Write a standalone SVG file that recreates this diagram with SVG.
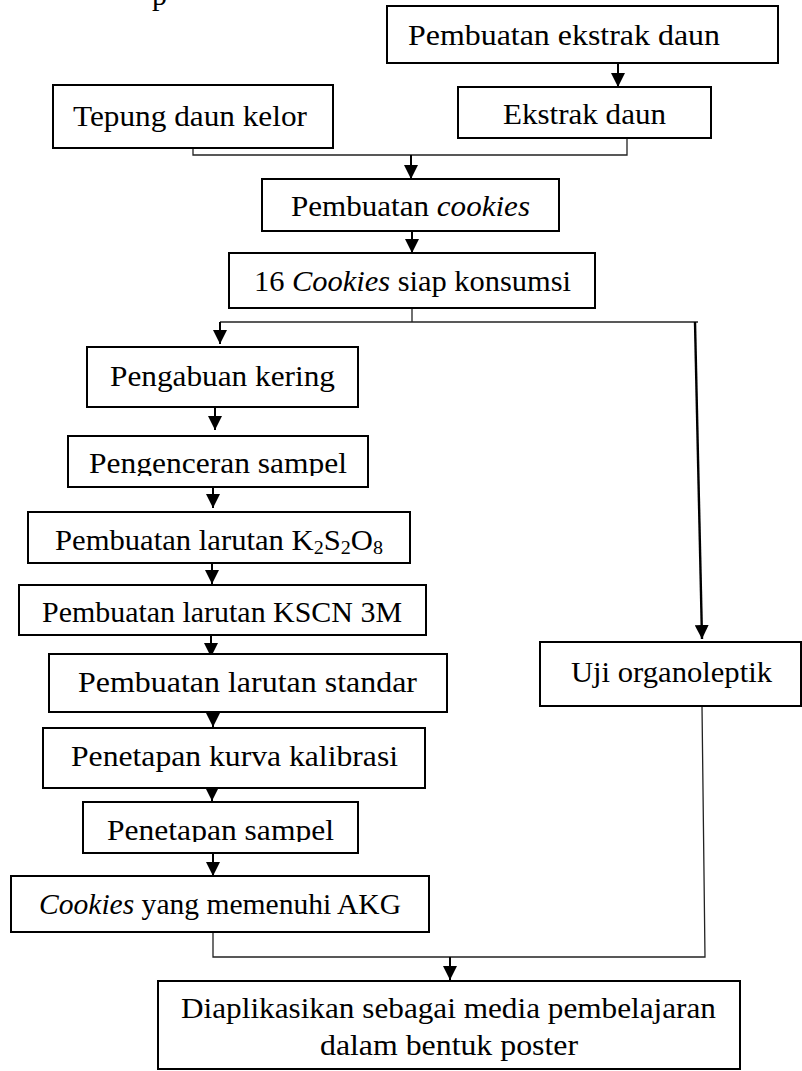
<svg xmlns="http://www.w3.org/2000/svg" width="802" height="1071" viewBox="0 0 802 1071">
<style>
  .box{fill:#fff;stroke:#000;stroke-width:2}
  .t{font-family:"Liberation Serif","Times New Roman",serif;font-size:30px;fill:#000}
  .s{font-size:29px}
  .thin{fill:none;stroke:#222;stroke-width:1.3}
  .arr{fill:none;stroke:#000;stroke-width:2;marker-end:url(#ah)}
</style>
<defs>
  <marker id="ah" markerUnits="userSpaceOnUse" markerWidth="14" markerHeight="14" refX="14" refY="7" orient="auto">
    <path d="M0,0 L14,7 L0,14 Z" fill="#000"/>
  </marker>
  <clipPath id="c1"><rect x="60" y="430" width="320" height="46"/></clipPath>
  <clipPath id="c2"><rect x="80" y="800" width="290" height="42"/></clipPath>
</defs>
<rect width="802" height="1071" fill="#fff"/>
<text class="t" x="152" y="5">p</text>

<g id="connectors">
  <line class="arr" x1="618" y1="63" x2="618" y2="87"/>
  <polyline class="thin" points="193,139 193,155 627,155 627,138"/>
  <line class="arr" x1="411" y1="155" x2="411" y2="179"/>
  <line class="arr" x1="412" y1="231" x2="412" y2="253"/>
  <polyline class="thin" points="412,308 412,322"/>
  <line class="thin" x1="220" y1="322" x2="698" y2="322"/>
  <line class="arr" x1="220" y1="322" x2="220" y2="344"/>
  <line class="arr" x1="695" y1="322" x2="702" y2="639" style="stroke-width:2.4"/>
  <line class="arr" x1="215" y1="407" x2="215" y2="430"/>
  <line class="arr" x1="213" y1="487" x2="213" y2="508"/>
  <line class="arr" x1="212" y1="563" x2="212" y2="584"/>
  <line class="arr" x1="211" y1="635" x2="211" y2="657"/>
  <line class="arr" x1="213" y1="706" x2="213" y2="727"/>
  <line class="arr" x1="212" y1="779" x2="212" y2="801"/>
  <line class="arr" x1="213" y1="853" x2="213" y2="876"/>
  <polyline class="thin" points="213,932 213,957 705,957 702,706"/>
  <line class="arr" x1="450" y1="957" x2="450" y2="980"/>
</g>

<g id="n-pembuatan-ekstrak">
  <rect class="box" x="387" y="6" width="391" height="57"/>
  <text class="t" x="408" y="45" textLength="312" lengthAdjust="spacingAndGlyphs">Pembuatan ekstrak daun</text>
</g>
<g id="n-ekstrak-daun">
  <rect class="box" x="458" y="87" width="253" height="51"/>
  <text class="t" x="503" y="124" textLength="163" lengthAdjust="spacingAndGlyphs">Ekstrak daun</text>
</g>
<g id="n-tepung">
  <rect class="box" x="53" y="85" width="280" height="63"/>
  <text class="t" x="73" y="126" textLength="234" lengthAdjust="spacingAndGlyphs">Tepung daun kelor</text>
</g>
<g id="n-pembuatan-cookies">
  <rect class="box" x="262" y="179" width="297" height="52"/>
  <text class="t" x="291" y="216" textLength="239" lengthAdjust="spacingAndGlyphs">Pembuatan <tspan font-style="italic">cookies</tspan></text>
</g>
<g id="n-16-cookies">
  <rect class="box" x="229" y="253" width="366" height="55"/>
  <text class="t" x="254" y="291" textLength="317" lengthAdjust="spacingAndGlyphs">16 <tspan font-style="italic">Cookies</tspan> siap konsumsi</text>
</g>
<g id="n-pengabuan">
  <rect class="box" x="87" y="347" width="271" height="60"/>
  <text class="t s" x="110" y="386" textLength="225" lengthAdjust="spacingAndGlyphs">Pengabuan kering</text>
</g>
<g id="n-pengenceran">
  <rect class="box" x="68" y="436" width="300" height="51"/>
  <text class="t s" x="89" y="473" textLength="258" lengthAdjust="spacingAndGlyphs" clip-path="url(#c1)">Pengenceran sampel</text>
</g>
<g id="n-k2s2o8">
  <rect class="box" x="28" y="512" width="382" height="51"/>
  <text class="t s" x="55" y="550" textLength="328" lengthAdjust="spacingAndGlyphs">Pembuatan larutan K<tspan font-size="19" dy="4">2</tspan><tspan dy="-4">S</tspan><tspan font-size="19" dy="4">2</tspan><tspan dy="-4">O</tspan><tspan font-size="19" dy="4">8</tspan></text>
</g>
<g id="n-kscn">
  <rect class="box" x="19" y="585" width="407" height="50"/>
  <text class="t s" x="42" y="622" textLength="360" lengthAdjust="spacingAndGlyphs">Pembuatan larutan KSCN 3M</text>
</g>
<g id="n-standar">
  <rect class="box" x="49" y="654" width="398" height="58"/>
  <text class="t s" x="78" y="692" textLength="339" lengthAdjust="spacingAndGlyphs">Pembuatan larutan standar</text>
</g>
<g id="n-kurva">
  <rect class="box" x="43" y="728" width="382" height="60"/>
  <text class="t s" x="71" y="766" textLength="327" lengthAdjust="spacingAndGlyphs">Penetapan kurva kalibrasi</text>
</g>
<g id="n-sampel">
  <rect class="box" x="83" y="802" width="275" height="51"/>
  <text class="t s" x="107" y="840" textLength="227" lengthAdjust="spacingAndGlyphs" clip-path="url(#c2)">Penetapan sampel</text>
</g>
<g id="n-akg">
  <rect class="box" x="11" y="876" width="418" height="56"/>
  <text class="t" x="39" y="914" textLength="362" lengthAdjust="spacingAndGlyphs"><tspan font-style="italic">Cookies</tspan> yang memenuhi AKG</text>
</g>
<g id="n-uji">
  <rect class="box" x="540" y="642" width="261" height="64"/>
  <text class="t s" x="571" y="682" textLength="201" lengthAdjust="spacingAndGlyphs">Uji organoleptik</text>
</g>
<g id="n-poster">
  <rect class="box" x="158" y="981" width="582" height="88"/>
  <text class="t" x="181" y="1018" textLength="535" lengthAdjust="spacingAndGlyphs">Diaplikasikan sebagai media pembelajaran</text>
  <text class="t" x="320" y="1055" textLength="258" lengthAdjust="spacingAndGlyphs">dalam bentuk poster</text>
</g>
</svg>
